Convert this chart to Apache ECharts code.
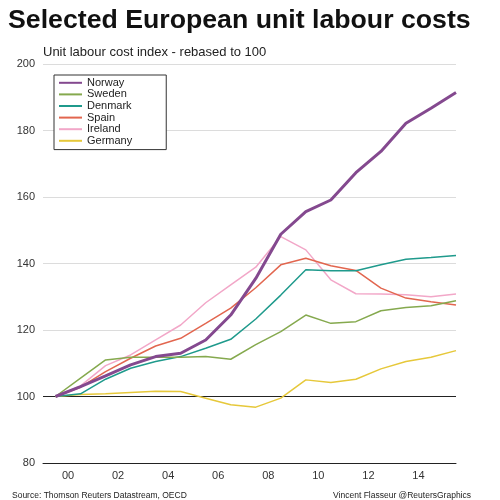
<!DOCTYPE html>
<html>
<head>
<meta charset="utf-8">
<script src="https://cdn.jsdelivr.net/npm/echarts@6/dist/echarts.min.js"></script>
<style>html,body{margin:0;padding:0;background:#fff}#c{width:500px;height:500px}</style>
</head>
<body>
<div id="c"></div>
<script>
const years = [1999,2000,2001,2002,2003,2004,2005,2006,2007,2008,2009,2010,2011,2012,2013,2014,2015];
const seriesNames = ['Norway','Sweden','Denmark','Spain','Ireland','Germany'];
const norway  = [100,103.0,106.2,109.5,112.0,113.0,117.0,124.5,135.5,148.8,155.6,159.1,167.3,173.7,182.2,186.7,191.4];
const sweden  = [100,105.5,111.0,111.8,111.8,111.8,112.0,111.2,115.6,119.5,124.5,122.0,122.5,125.8,126.8,127.3,128.8];
const denmark = [100,100.8,105.2,108.5,110.5,112.0,114.5,117.2,123.3,130.5,138.1,137.8,137.8,139.6,141.3,141.8,142.4];
const spain   = [100,102.8,107.5,111.5,115.2,117.5,122.0,126.6,132.7,139.6,141.6,139.3,137.9,132.6,129.6,128.5,127.5];
const ireland = [100,103.2,109.3,112.5,117.0,121.5,128.2,133.6,138.9,148.1,144.1,135.1,130.9,130.8,130.6,130.0,130.8];
const germany = [100,100.6,100.8,101.2,101.6,101.5,99.5,97.5,96.8,99.5,105.0,104.2,105.2,108.3,110.5,111.8,113.8];
const xTickYears = [2000,2002,2004,2006,2008,2010,2012,2014];

const colors = ['#84498f','#85a94e','#1f9a8c','#e2664f','#f2a7c8','#e6c83a'];
const widths = [3,1.5,1.5,1.5,1.5,1.5];
const allData = [norway,sweden,denmark,spain,ireland,germany];
const FONT = 'Liberation Sans, Arial, sans-serif';

const chart = echarts.init(document.getElementById('c'), null, {renderer:'canvas'});
const series = seriesNames.map((n,i)=>({
  name:n, type:'line', symbol:'none', showSymbol:false, smooth:false,
  z: i===0 ? 20 : 10 - i,
  data: years.map((y,k)=>[y+0.5, allData[i][k]]),
  lineStyle:{color:colors[i], width:widths[i]},
  itemStyle:{color:colors[i]},
  emphasis:{disabled:true}
}));
series.push({
  name:'base', type:'line', data:[], silent:true,
  markLine:{silent:true, symbol:'none', label:{show:false},
    lineStyle:{color:'#222', width:1, type:'solid'},
    data:[{yAxis:100}]},
  z:1
});
chart.setOption({
  animation:false,
  backgroundColor:'#fff',
  title:[
    {text:'Selected European unit labour costs', left:3, top:2,
     textStyle:{fontFamily:FONT, fontSize:26.7, fontWeight:'bold', color:'#111'}},
    {text:'Unit labour cost index - rebased to 100', left:38, top:41,
     textStyle:{fontFamily:FONT, fontSize:13, fontWeight:'normal', color:'#222'}},
    {text:'Source: Thomson Reuters Datastream, OECD', left:7, top:486,
     textStyle:{fontFamily:FONT, fontSize:8.5, fontWeight:'normal', color:'#222'}},
    {text:'Vincent Flasseur @ReutersGraphics', right:24, top:486,
     textStyle:{fontFamily:FONT, fontSize:8.5, fontWeight:'normal', color:'#222'}}
  ],
  legend:{
    data:seriesNames, orient:'vertical', left:54, top:75,
    itemWidth:23, itemHeight:8, itemGap:0, itemTextGap:7,
    padding:[2,34,3,4],
    borderColor:'#333', borderWidth:1, backgroundColor:'#fff',
    selectedMode:false,
    itemStyle:{color:'rgba(0,0,0,0)', borderWidth:0, opacity:0},
    textStyle:{fontFamily:FONT, fontSize:11, color:'#222', lineHeight:11.6}
  },
  grid:{left:43, right:44, top:64, bottom:37, containLabel:false},
  xAxis:{
    type:'value', min:1999, max:2015.5,
    axisLine:{show:true, onZero:false, lineStyle:{color:'#222', width:1}},
    axisTick:{show:false},
    splitLine:{show:false},
    axisLabel:{customValues:xTickYears, margin:7, color:'#333', fontSize:11,
      fontFamily:FONT,
      formatter:v=>String(v%100).padStart(2,'0')}
  },
  yAxis:{
    type:'value', min:80, max:200, interval:20,
    axisLine:{show:false}, axisTick:{show:false},
    splitLine:{show:true, lineStyle:{color:'#dcdcdc', width:1}},
    axisLabel:{margin:8, color:'#333', fontSize:11, fontFamily:FONT}
  },
  series:series
});
</script>
</body>
</html>
